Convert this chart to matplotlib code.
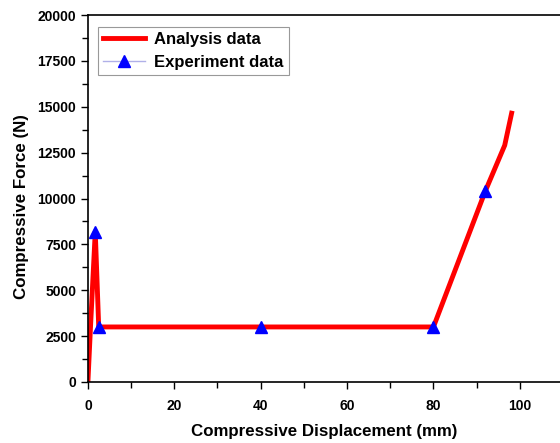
import matplotlib
matplotlib.use("Agg")
import matplotlib.pyplot as plt
from matplotlib.ticker import MultipleLocator

plt.rcParams['font.family'] = ['Liberation Sans', 'DejaVu Sans']
plt.rcParams['font.weight'] = 'bold'

analysis_x = [0, 0.6, 1.7, 2.5, 40, 80, 92, 96.5, 98.1]
analysis_y = [0, 3000, 8200, 3000, 3000, 3000, 10400, 12900, 14650]
exp_x = [1.7, 2.5, 40, 80, 92]
exp_y = [8200, 3000, 3000, 3000, 10400]

fig = plt.figure(figsize=(5.6, 4.43), dpi=100)
ax = fig.add_axes([0.157, 0.1377, 0.843, 0.8284])

ax.plot(analysis_x, analysis_y, color='#ff0000', lw=3.5, label='Analysis data', zorder=2)
ax.plot(exp_x, exp_y, color='#b0b0e8', lw=1, marker='^', markersize=9,
        markerfacecolor='#0000ff', markeredgecolor='#0000ff', linestyle='none', zorder=3)
h_exp, = ax.plot([], [], color='#b0b0e8', lw=1, marker='^', markersize=9,
                 markerfacecolor='#0000ff', markeredgecolor='#0000ff', label='Experiment data')

ax.set_xlim(0, 109.3)
ax.set_ylim(0, 20000)
ax.xaxis.set_major_locator(MultipleLocator(20))
ax.xaxis.set_minor_locator(MultipleLocator(10))
ax.yaxis.set_major_locator(MultipleLocator(2500))
ax.yaxis.set_minor_locator(MultipleLocator(1250))
ax.tick_params(which='major', direction='out', length=5, width=1, labelsize=10)
ax.tick_params(axis='x', which='major', pad=7)
ax.tick_params(which='minor', direction='out', length=4, width=1)
ax.spines['right'].set_visible(False)
for s in ['left', 'bottom', 'top']:
    ax.spines[s].set_linewidth(1.2)
for lab in ax.get_xticklabels() + ax.get_yticklabels():
    lab.set_fontweight('bold')

ax.set_xlabel('Compressive Displacement (mm)', fontsize=12.2, fontweight='bold', labelpad=8)
ax.set_ylabel('Compressive Force (N)', fontsize=12.2, fontweight='bold')
ax.yaxis.set_label_coords(-0.125, 0.477)

leg = ax.legend([ax.lines[0], h_exp], ['Analysis data', 'Experiment data'],
                loc='upper left', bbox_to_anchor=(0.022, 0.967), fontsize=12,
                frameon=True, fancybox=False, edgecolor='#808080', handlelength=2.5,
                borderpad=0.3, labelspacing=0.45, handletextpad=0.55, borderaxespad=0)
leg.get_frame().set_linewidth(0.8)
for t in leg.get_texts():
    t.set_fontweight('bold')

fig.savefig('out.png', dpi=100)
